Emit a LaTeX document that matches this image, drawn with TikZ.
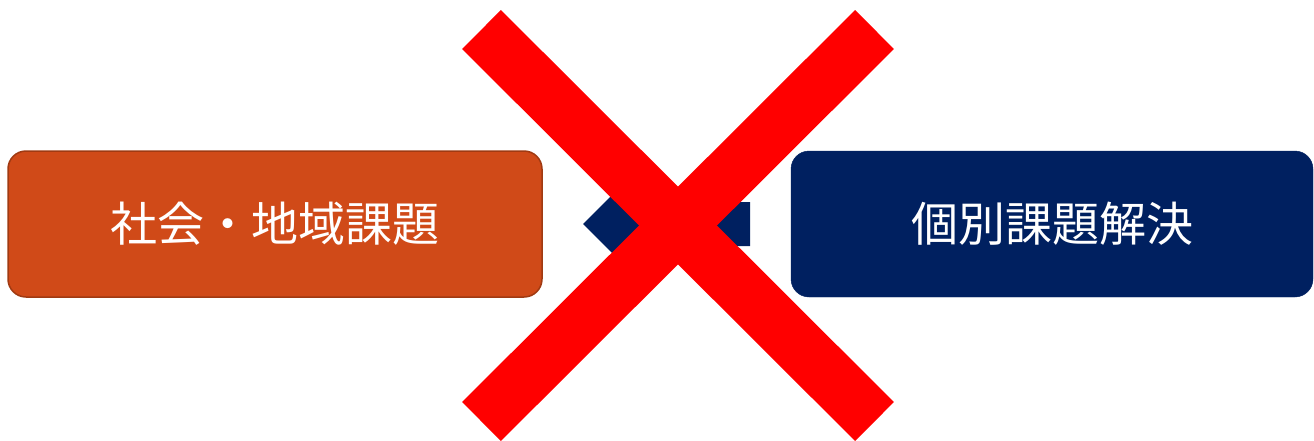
\documentclass[tikz,border=0pt]{standalone}
\usepackage{fontspec}
\newfontfamily\jpfont{Noto Sans CJK JP}
\definecolor{issueorange}{RGB}{208,74,24}
\definecolor{issueedge}{RGB}{160,58,18}
\definecolor{solvenavy}{RGB}{0,32,96}
\definecolor{crossred}{RGB}{255,0,0}
\begin{document}
\begin{tikzpicture}[x=1pt,y=-1pt,
  taskbox/.style={rounded corners=18pt,minimum width=534pt,minimum height=146pt,
    text=white,font=\jpfont\fontsize{47}{52}\selectfont,inner sep=0pt},
  crossbar/.style={line width=55pt,crossred}]
\useasboundingbox (0,0) rectangle (1314,440);
\node[taskbox,fill=issueorange,draw=issueedge,line width=1.5pt] (social) at (275,224) {社会・地域課題};
\node[taskbox,fill=solvenavy,draw=solvenavy,minimum width=522pt] (solve) at (1052,224) {個別課題解決};
% block arrow pointing left
\coordinate (tip) at (583,224);
\fill[solvenavy] (tip)--(623,184)--(623,202)--(750,202)--(750,246)--(623,246)--(623,264)--cycle;
% the cross
\coordinate (xa) at (481.5,29.5);
\coordinate (xb) at (874.5,421.5);
\coordinate (xc) at (874.5,29.5);
\coordinate (xd) at (481.5,421.5);
\draw[crossbar] (xa)--(xb);
\draw[crossbar] (xc)--(xd);
\end{tikzpicture}
\end{document}
